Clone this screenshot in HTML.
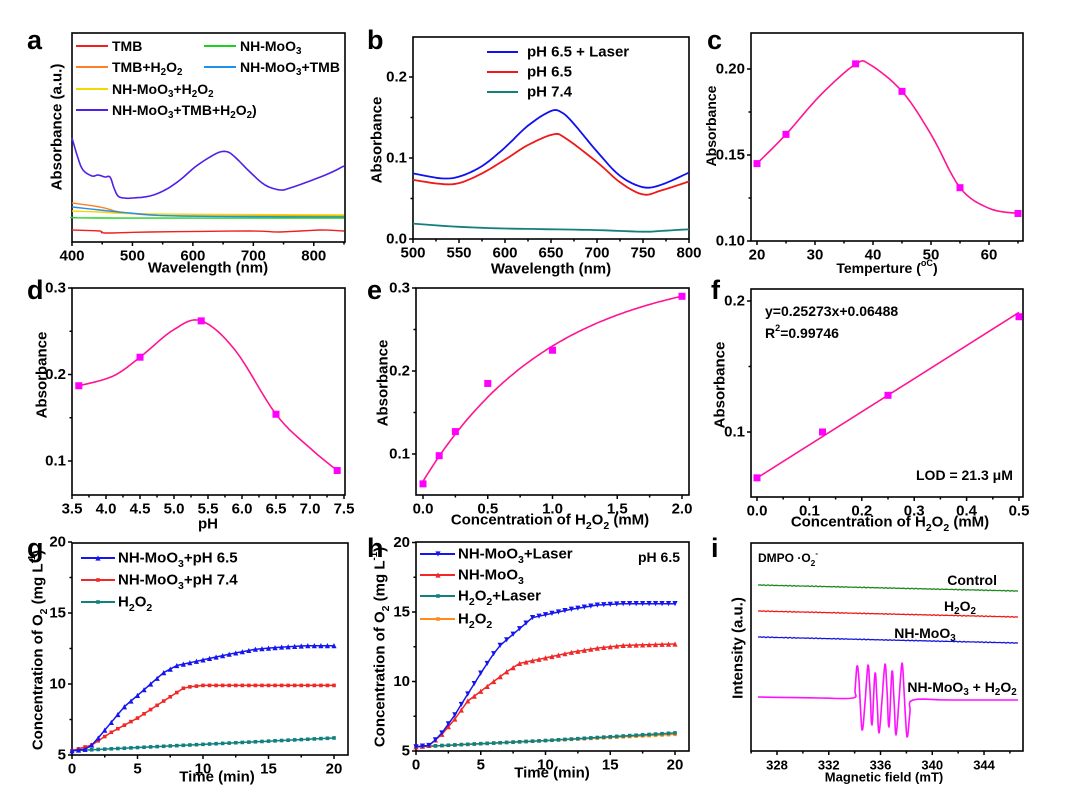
<!DOCTYPE html>
<html><head><meta charset="utf-8">
<style>
html,body{margin:0;padding:0;background:#fff;}
svg{display:block;font-family:"Liberation Sans",Arial,sans-serif;font-weight:bold;}
</style></head>
<body>
<svg id="s" width="1080" height="803" viewBox="0 0 1080 803" xmlns="http://www.w3.org/2000/svg"></svg>
<script>
var out=[];
function fmt(s){s=String(s);return s.replace(/_(\w)/g,'<tspan baseline-shift="sub" font-size="70%">$1</tspan>').replace(/\^([\w\-]+)/g,'<tspan baseline-shift="super" font-size="65%">$1</tspan>');}
function T(x,y,s,fs,anchor,extra){out.push('<text x="'+x+'" y="'+y+'" font-size="'+fs+'" text-anchor="'+(anchor||'start')+'" dominant-baseline="central" '+(extra||'')+'>'+fmt(s)+'</text>');}
function VT(x,y,s,fs){out.push('<text transform="translate('+x+','+y+') rotate(-90)" font-size="'+fs+'" text-anchor="middle" dominant-baseline="central">'+fmt(s)+'</text>');}
function L(x1,y1,x2,y2,c,w){out.push('<line x1="'+x1+'" y1="'+y1+'" x2="'+x2+'" y2="'+y2+'" stroke="'+(c||'#000')+'" stroke-width="'+(w||1.5)+'"/>');}
function P(pts,c,w){out.push('<polyline fill="none" stroke="'+c+'" stroke-width="'+(w||1.6)+'" stroke-linejoin="round" points="'+pts.map(function(p){return p[0].toFixed(1)+','+p[1].toFixed(1)}).join(' ')+'"/>');}
function CR(pts,n){var r=[];for(var i=0;i<pts.length-1;i++){var p0=pts[i-1]||pts[i],p1=pts[i],p2=pts[i+1],p3=pts[i+2]||p2;for(var k=0;k<n;k++){var t=k/n,t2=t*t,t3=t2*t;r.push([0.5*(2*p1[0]+(-p0[0]+p2[0])*t+(2*p0[0]-5*p1[0]+4*p2[0]-p3[0])*t2+(-p0[0]+3*p1[0]-3*p2[0]+p3[0])*t3),0.5*(2*p1[1]+(-p0[1]+p2[1])*t+(2*p0[1]-5*p1[1]+4*p2[1]-p3[1])*t2+(-p0[1]+3*p1[1]-3*p2[1]+p3[1])*t3)]);}}r.push(pts[pts.length-1]);return r;}
function frame(x0,y0,x1,y1){out.push('<rect x="'+x0+'" y="'+y0+'" width="'+(x1-x0)+'" height="'+(y1-y0)+'" fill="none" stroke="#000" stroke-width="1.6"/>');}
function xt(y1,list,minor,fs){list.forEach(function(t){L(t[0],y1,t[0],y1+4);T(t[0],y1+14,t[1],fs||15,'middle');});(minor||[]).forEach(function(x){L(x,y1,x,y1+2.5);});}
function yt(x0,list,minor,fs){list.forEach(function(t){L(x0,t[0],x0-4,t[0]);T(x0-6,t[0],t[1],fs||15,'end');});(minor||[]).forEach(function(y){L(x0,y,x0-2.5,y);});}
function sq(x,y,c,s){s=s||4;out.push('<rect x="'+(x-s)+'" y="'+(y-s)+'" width="'+2*s+'" height="'+2*s+'" fill="'+c+'"/>');}
function tri(x,y,c,down){var s=2.6;var d=down?-1:1;out.push('<polygon fill="'+c+'" points="'+x+','+(y-s*d)+' '+(x-s)+','+(y+s*d)+' '+(x+s)+','+(y+s*d)+'"/>');}
function interp(keys,t){for(var i=0;i<keys.length-1;i++){if(t<=keys[i+1][0]){var a=keys[i],b=keys[i+1];return a[1]+(b[1]-a[1])*(t-a[0])/(b[0]-a[0]);}}return keys[keys.length-1][1];}
function range(a,b,s){var r=[];for(var v=a;v<=b+1e-9;v+=s)r.push(v);return r;}
var MG='#ff1493',MK='#ff00ff';

[['a',27,40],['b',367,40],['c',707,40],['d',27,290],['e',367,290],['f',711,290],['g',27,548],['h',367,548],['i',711,548]].forEach(function(l){T(l[1],l[2],l[0],27,'start');});

// a
(function(){var X=function(v){return 72+(v-400)*272/450;};
frame(72,33,345,242);
xt(242,[400,500,600,700,800].map(function(v){return [X(v),v]}),[450,550,650,750,850].map(X));
T(208,268,'Wavelength (nm)',15,'middle');VT(57,127,'Absorbance (a.u.)',15);
P(CR([[72,230],[100,231],[105,233],[150,232],[250,231],[280,232],[320,230],[344,231]],4),'#f02020',1.4);
P(CR([[72,203],[100,207],[120,212],[150,215],[200,216],[344,216]],4),'#ff7f27',1.4);
P(CR([[72,211],[100,212],[150,214],[344,215]],4),'#f5d800',1.4);
P(CR([[72,207],[100,210],[130,213],[180,216],[344,217]],4),'#2090f0',1.4);
P(CR([[72,217],[100,218],[344,218]],4),'#20d020',1.4);
P(CR([[72,138],[78,158],[83,170],[92,176],[98,175],[105,177],[110,177],[114,188],[118,196],[124,198],[133,198],[150,196],[165,190],[180,180],[195,167],[210,157],[220,152],[228,152],[236,158],[250,172],[265,185],[280,190],[290,188],[310,181],[330,173],[344,166]],4),'#5020e8',1.6);
var lg=[[46,'#f02020','TMB',0],[46,'#20d020','NH-MoO_3',1],[67,'#ff7f27','TMB+H_2O_2',0],[67,'#2090f0','NH-MoO_3+TMB',1],[89,'#f5d800','NH-MoO_3+H_2O_2',0],[110,'#5020e8','NH-MoO_3+TMB+H_2O_2)',0]];
lg.forEach(function(g){var x=g[3]?204:76;L(x,g[0],x+32,g[0],g[1],2);T(x+36,g[0],g[2],14);});
})();

// b
(function(){var X=function(v){return 413+(v-500)*276/300;},Y=function(v){return 239-v*810;};
frame(413,37,689,239);
xt(239,[500,550,600,650,700,750,800].map(function(v){return [X(v),v]}),range(525,775,50).map(X));
yt(413,[[Y(0),'0.0'],[Y(0.1),'0.1'],[Y(0.2),'0.2']],[Y(0.05),Y(0.15)]);
T(551,269,'Wavelength (nm)',15,'middle');VT(377,140,'Absorbance',15);
function cv(d,c){P(CR(d.map(function(p){return [X(p[0]),Y(p[1])]}),6),c,1.8);}
cv([[500,.081],[530,.075],[550,.077],[575,.09],[600,.113],[625,.14],[650,.158],[662,.156],[675,.142],[700,.108],[725,.078],[750,.064],[770,.067],[800,.082]],'#1010f0');
cv([[500,.073],[530,.068],[550,.069],[575,.081],[600,.098],[625,.116],[652,.129],[665,.125],[700,.095],[725,.07],[750,.055],[770,.06],[800,.071]],'#f01818');
cv([[500,.019],[550,.015],[600,.013],[650,.012],[700,.011],[750,.009],[770,.01],[800,.012]],'#138080');
[[52,'#1010f0','pH 6.5 + Laser'],[72,'#f01818','pH 6.5'],[92,'#138080','pH 7.4']].forEach(function(g){L(487,g[0],518,g[0],g[1],2);T(527,g[0],g[2],15);});
})();

// c
(function(){var X=function(v){return 757+(v-20)*5.8;},Y=function(v){return 241-(v-0.10)*1720;};
frame(751,33,1023,241);
xt(241,[20,30,40,50,60].map(function(v){return [X(v),v]}),[25,35,45,55,65].map(X));
yt(751,[[Y(.10),'0.10'],[Y(.15),'0.15'],[Y(.20),'0.20']],[Y(.125),Y(.175)]);
T(887,268,'Temperture (^oC)',14,'middle');VT(711,126,'Absorbance',14);
var pts=[[20,.145],[25,.162],[31,.185],[37,.2028],[39.5,.2025],[45,.187],[50,.162],[55,.131],[60,.119],[65,.116]];
P(CR(pts.map(function(p){return [X(p[0]),Y(p[1])]}),8),MG,1.6);
[[20,.145],[25,.162],[37,.203],[45,.187],[55,.131],[65,.116]].forEach(function(p){sq(X(p[0]),Y(p[1]),MK,3.5);});
})();

// d
(function(){var X=function(v){return 72+(v-3.5)*68;},Y=function(v){return 461-(v-0.1)*865;};
frame(72,288,345,495);
xt(495,range(3.5,7.5,0.5).map(function(v){return [X(v),v.toFixed(1)]}),range(3.75,7.25,0.5).map(X));
yt(72,[[Y(.1),'0.1'],[Y(.2),'0.2'],[Y(.3),'0.3']],[Y(.15),Y(.25)]);
T(208,524,'pH',15,'middle');VT(42,375,'Absorbance',15);
var pts=[[3.6,.187],[4.1,.198],[4.5,.220],[5.0,.252],[5.4,.262],[5.9,.228],[6.5,.154],[7.0,.115],[7.4,.089]];
P(CR(pts.map(function(p){return [X(p[0]),Y(p[1])]}),8),MG,1.6);
[[3.6,.187],[4.5,.220],[5.4,.262],[6.5,.154],[7.4,.089]].forEach(function(p){sq(X(p[0]),Y(p[1]),MK,3.5);});
})();

// e
(function(){var X=function(v){return 423+v*129.5;},Y=function(v){return 454-(v-0.1)*830;};
frame(416,288,689,495);
xt(495,range(0,2,0.5).map(function(v){return [X(v),v.toFixed(1)]}),range(0.25,1.75,0.5).map(X));
yt(416,[[Y(.1),'0.1'],[Y(.2),'0.2'],[Y(.3),'0.3']],[Y(.15),Y(.25)]);
T(550,520,'Concentration of H_2O_2 (mM)',15,'middle');VT(383,383,'Absorbance',15);
var c=[];for(var x=0;x<=2.0001;x+=0.02)c.push([X(x),Y(0.325-0.258*Math.exp(-x))]);P(c,MG,1.6);
[[0,.064],[0.125,.098],[0.25,.127],[0.5,.185],[1,.225],[2,.290]].forEach(function(p){sq(X(p[0]),Y(p[1]),MK,3.5);});
})();

// f
(function(){var X=function(v){return 757+v*524;},Y=function(v){return 432-(v-0.1)*1310;};
frame(751,289,1023,497);
xt(497,range(0,0.5,0.1).map(function(v){return [X(v),v.toFixed(1)]}),range(0.05,0.45,0.1).map(X));
yt(751,[[Y(.1),'0.1'],[Y(.2),'0.2']],[Y(.15)]);
T(890,522,'Concentration of H_2O_2 (mM)',15,'middle');VT(720,385,'Absorbance',15);
L(X(0),Y(.06488),X(.5),Y(.25273*.5+.06488),MG,1.6);
[[0,.065],[0.125,.1],[0.25,.128],[0.5,.188]].forEach(function(p){sq(X(p[0]),Y(p[1]),MK,3.5);});
T(765,311,'y=0.25273x+0.06488',14);T(765,333,'R^2=0.99746',14);T(916,475,'LOD = 21.3 μM',14);
})();

// g
(function(){var X=function(v){return 72+v*13.1;},Y=function(v){return 755-(v-5)*14.2;};
frame(72,543,348,755);
xt(755,[0,5,10,15,20].map(function(v){return [X(v),v]}),[2.5,7.5,12.5,17.5].map(X));
yt(72,[[Y(5),'5'],[Y(10),'10'],[Y(15),'15'],[Y(20),'20']],[Y(7.5),Y(12.5),Y(17.5)]);
T(217,777,'Time (min)',15,'middle');VT(38,650,'Concentration of O_2 (mg L^-1)',15);
var B=[[0,5.3],[1,5.4],[1.5,5.7],[2,6.2],[3,7.3],[4,8.4],[5,9.2],[6,10],[7,10.8],[8,11.3],[9,11.5],[10,11.7],[12,12.1],[14,12.45],[16,12.6],[18,12.7],[20,12.7]];
var R=[[0,5.3],[1.5,5.7],[2,6],[3,6.6],[4,7.1],[5,7.6],[6,8.2],[7,8.8],[8,9.4],[8.5,9.7],[9,9.8],[10,9.9],[20,9.9]];
var G=[[0,5.3],[20,6.2]];
[[G,'#138080','s'],[R,'#f02828','c'],[B,'#1515f0','t']].forEach(function(s){var pts=range(0,20,0.5).map(function(t){return [X(t),Y(interp(s[0],t))]});P(pts,s[1],1.5);pts.forEach(function(p){if(s[2]=='t')tri(p[0],p[1],s[1]);else sq(p[0],p[1],s[1],1.8);});});
[[558,'#1515f0','NH-MoO_3+pH 6.5','t'],[580,'#f02828','NH-MoO_3+pH 7.4','c'],[602,'#138080','H_2O_2','s']].forEach(function(g){L(81,g[0],115,g[0],g[1],2);if(g[3]=='t')tri(98,g[0],g[1]);else sq(98,g[0],g[1],1.8);T(118,g[0],g[2],15);});
})();

// h
(function(){var X=function(v){return 416+v*12.95;},Y=function(v){return 751-(v-5)*13.9;};
frame(416,542,689,751);
xt(751,[0,5,10,15,20].map(function(v){return [X(v),v]}),[2.5,7.5,12.5,17.5].map(X));
yt(416,[[Y(5),'5'],[Y(10),'10'],[Y(15),'15'],[Y(20),'20']],[Y(7.5),Y(12.5),Y(17.5)]);
T(552,773,'Time (min)',15,'middle');VT(380,647,'Concentration of O_2 (mg L^-1)',15);
var B=[[0,5.3],[1,5.4],[1.5,5.8],[2,6.3],[3,7.6],[4,9.1],[5,10.6],[6,12],[6.5,12.6],[7,13],[8,13.8],[9,14.6],[10,14.8],[12,15.2],[14,15.5],[16,15.6],[20,15.6]];
var R=[[0,5.3],[1,5.4],[2,6.2],[3,7.3],[4,8.6],[5,9.3],[6,10],[7,10.7],[8,11.3],[9,11.5],[10,11.7],[12,12.1],[14,12.4],[16,12.6],[20,12.7]];
var O=[[0,5.3],[20,6.2]],G=[[0,5.3],[10,5.75],[20,6.3]];
[[O,'#ff8c1a','s'],[G,'#138080','s'],[R,'#f02828','t'],[B,'#1515f0','d']].forEach(function(s){var pts=range(0,20,0.5).map(function(t){return [X(t),Y(interp(s[0],t))]});P(pts,s[1],1.5);pts.forEach(function(p){if(s[2]=='t')tri(p[0],p[1],s[1]);else if(s[2]=='d')tri(p[0],p[1],s[1],true);else sq(p[0],p[1],s[1],1.8);});});
[[554,'#1515f0','NH-MoO_3+Laser','d'],[575,'#f02828','NH-MoO_3','t'],[596,'#138080','H_2O_2+Laser','s'],[619,'#ff8c1a','H_2O_2','s']].forEach(function(g){L(420,g[0],455,g[0],g[1],2);if(g[3]=='t')tri(438,g[0],g[1]);else if(g[3]=='d')tri(438,g[0],g[1],true);else sq(438,g[0],g[1],1.8);T(458,g[0],g[2],15);});
T(638,557,'pH 6.5',14);
})();

// i
(function(){var X=function(v){return 777+(v-328)*12.94;};
frame(751,543,1023,751);
xt(751,[328,332,336,340,344].map(function(v){return [X(v),v]}),[326,330,334,338,342,346].map(X),13);
T(884,777,'Magnetic field (mT)',13,'middle');VT(738,648,'Intensity (a.u.)',15);
function noisy(y1,y2,c){var p=[];for(var x=758;x<=1018;x+=2){p.push([x,y1+(y2-y1)*(x-758)/260+(Math.sin(x*1.7)*0.4)]);}P(p,c,1.3);}
noisy(585,591,'#1a8a1a');noisy(611,617,'#f01818');noisy(637,643,'#1515e0');
var m=[[758,697],[820,698],[853,698],[855,690],[857,666],[859,680],[862,730],[865,703],[868,665],[870,690],[872,725],[875,673],[877,700],[879,733],[882,700],[885,664],[887,690],[889,727],[892,671],[894,700],[896,735],[899,700],[902,663],[904,690],[907,737],[910,712],[913,700],[950,700],[1018,700]];
P(CR(m,5),'#ff10ff',1.6);
T(997,580,'Control',14,'end');T(960,606,'H_2O_2',14,'middle');T(925,633,'NH-MoO_3',14,'middle');T(962,687,'NH-MoO_3 + H_2O_2',14,'middle');
T(758,558,'DMPO  ·O_2^-',12);
})();

document.getElementById('s').innerHTML=out.join('');
</script>
</body></html>
